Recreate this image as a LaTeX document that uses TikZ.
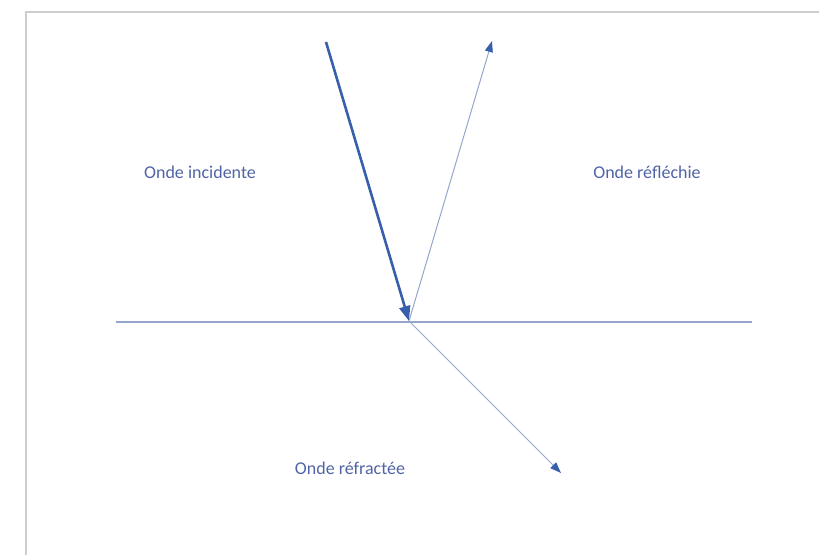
\documentclass[tikz,border=0pt]{standalone}
\usepackage{fontspec}
\setmainfont{Carlito}
\usetikzlibrary{arrows.meta}
\definecolor{wavetext}{RGB}{80,100,165}
\definecolor{wavedark}{RGB}{55,95,170}
\definecolor{wavelight}{RGB}{150,165,205}
\definecolor{frame}{RGB}{205,205,205}
\tikzset{
  wavelabel/.style={text=wavetext, font=\fontsize{18}{20}\selectfont, inner sep=0pt},
  incident/.style={draw=wavedark, line width=2.6pt, -{Triangle[length=15pt,width=11pt]}},
  secondary/.style={draw=wavelight, line width=1pt, -{Triangle[length=11pt,width=8pt,color=wavedark,fill=wavedark]}},
}
\begin{document}
\begin{tikzpicture}[x=1pt, y=-1pt]
					\useasboundingbox (0,0) rectangle (819,555);
					\draw[frame, line width=1.5pt] (26,555) -- (26,12) -- (819,12);
					
					\coordinate (O) at (409,321);
					\coordinate (incStart) at (326,42);
					\coordinate (reflEnd) at (492,41);
					\coordinate (refrEnd) at (561,473);
					\coordinate (surfL) at (116,322);
					\coordinate (surfR) at (752,322);
					
					\draw[wavelight, line width=1.5pt] (surfL) -- (surfR);
					\draw[secondary] (O) -- (reflEnd);
					\draw[secondary] (O) -- (refrEnd);
					\draw[incident] (incStart) -- (O);
					
					\node[wavelabel] (incident) at (200,172) {Onde incidente};
					\node[wavelabel] (reflected) at (647,172) {Onde réfléchie};
					\node[wavelabel] (refracted) at (350,468) {Onde réfractée};
				\end{tikzpicture}
\end{document}
